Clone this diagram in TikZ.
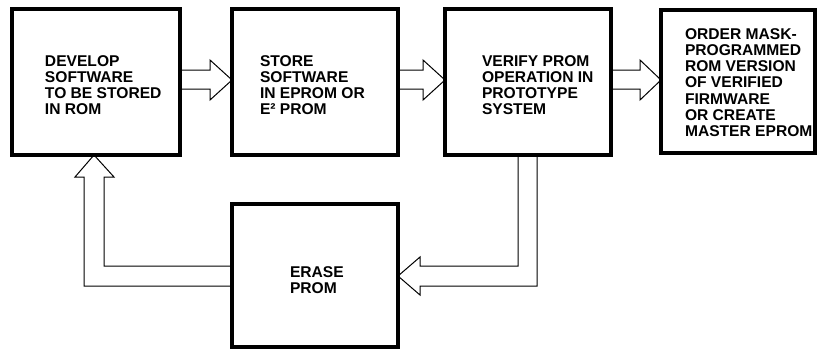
\documentclass[tikz,border=0pt]{standalone}
\usepackage{fontspec}
\setmainfont{Liberation Sans}
\usetikzlibrary{calc}
\newcommand{\boxlines}[1]{\begin{tabular}[t]{@{}l@{}}#1\end{tabular}}
\begin{document}
\begin{tikzpicture}[x=1pt,y=-1pt,
  blk/.style={draw=black,line width=3.5pt,rectangle,inner sep=0pt,outer sep=0pt},
  txt/.style={anchor=base west,inner sep=0pt,outer sep=0pt,font=\fontsize{15.6}{16.3}\selectfont\bfseries},
  arr/.style={draw=black,line width=1pt,line join=miter}]
\useasboundingbox (0,0) rectangle (817,349);
% boxes
\node[blk,minimum width=168pt,minimum height=146pt] (b1) at (96,82) {};
\node[blk,minimum width=166pt,minimum height=146pt] (b2) at (315,82) {};
\node[blk,minimum width=166pt,minimum height=146pt] (b3) at (528,82) {};
\node[blk,minimum width=154pt,minimum height=143pt] (b4) at (738,81.5) {};
\node[blk,minimum width=166pt,minimum height=143pt] (er) at (315,275.5) {};
% texts
\node[txt] (t1) at (45,66) {\boxlines{DEVELOP\\SOFTWARE\\TO BE STORED\\IN ROM}};
\node[txt] (t2) at (260,66) {\boxlines{STORE\\SOFTWARE\\IN EPROM OR\\E² PROM}};
\node[txt] (t3) at (482,66) {\boxlines{VERIFY PROM\\OPERATION IN\\PROTOTYPE\\SYSTEM}};
\node[txt] (t4) at (685,39) {\boxlines{ORDER MASK-\\PROGRAMMED\\ROM VERSION\\OF VERIFIED\\FIRMWARE\\OR CREATE\\MASTER EPROM}};
\node[txt] (t5) at (290,277) {\boxlines{ERASE\\PROM}};
% hollow arrows between boxes
\draw[arr] (b1.east |- 0,70) -- (210,70) -- (210,60) -- (b2.west |- 0,80) -- (210,100) -- (210,89) -- (b1.east |- 0,89);
\draw[arr] (b2.east |- 0,70) -- (423,70) -- (423,60) -- (b3.west |- 0,80) -- (423,100) -- (423,89) -- (b2.east |- 0,89);
\draw[arr] (b3.east |- 0,70) -- (640,70) -- (640,60) -- (b4.west |- 0,80) -- (640,100) -- (640,89) -- (b3.east |- 0,89);
% return path: verify -> erase
\draw[arr] (518,0 |- b3.south) -- (518,266) -- (420,266) -- (420,257) -- (er.east |- 0,276) -- (420,295) -- (420,286) -- (537,286) -- (537,0 |- b3.south);
% return path: erase -> develop
\draw[arr] (er.west |- 0,266) -- (104,266) -- (104,177) -- (114,177) -- (94,0 |- b1.south) -- (75,177) -- (84,177) -- (84,286) -- (er.west |- 0,286);
\end{tikzpicture}
\end{document}
